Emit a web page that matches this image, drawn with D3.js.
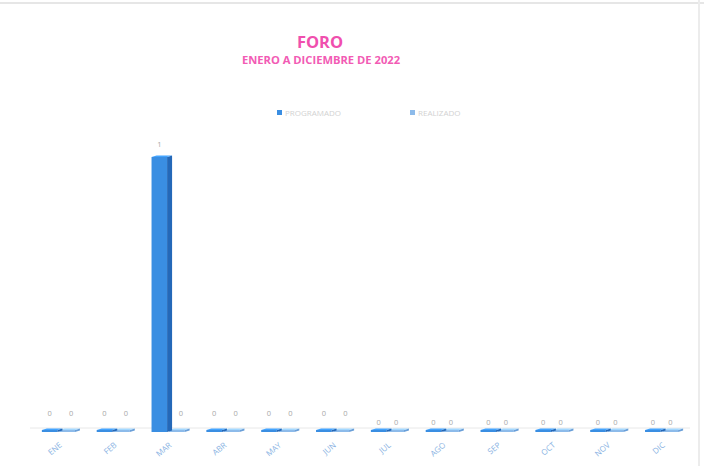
<!DOCTYPE html>
<html><head><meta charset="utf-8">
<script src="https://cdn.jsdelivr.net/npm/d3@7"></script>
<style>body{margin:0;background:#fff}svg{display:block}</style>
</head><body>
<script>
const months = ["ENE","FEB","MAR","ABR","MAY","JUN","JUL","AGO","SEP","OCT","NOV","DIC"];
const seriesNames = ["PROGRAMADO","REALIZADO"];
const programado = [0,0,1,0,0,0,0,0,0,0,0,0];
const realizado  = [0,0,0,0,0,0,0,0,0,0,0,0];
const seriesColors = ["#3a8ee2","#8dbbea"];
const sideColors = ["#2468b8","#6a9fd8"];

const W=704,H=466;
const svg=d3.select("body").append("svg").attr("width",W).attr("height",H);
svg.append("rect").attr("x",0).attr("y",0).attr("width",W).attr("height",H).attr("fill","#fff");
svg.append("line").attr("x1",0).attr("x2",W).attr("y1",3).attr("y2",3).attr("stroke","#e6e6e6").attr("stroke-width",2);
svg.append("line").attr("x1",699).attr("x2",699).attr("y1",0).attr("y2",H).attr("stroke","#ececec").attr("stroke-width",2);

svg.append("text").attr("x",320).attr("y",48).attr("text-anchor","middle")
  .attr("font-family","Open Sans, sans-serif").attr("font-weight",700).attr("font-size",16.5).attr("fill","#f04fae").text("FORO");
svg.append("text").attr("x",321).attr("y",64).attr("text-anchor","middle")
  .attr("font-family","Open Sans, sans-serif").attr("font-weight",700).attr("font-size",11.2).attr("fill","#f25bb4").text("ENERO A DICIEMBRE DE 2022");

const leg=[{x:277,i:0},{x:410,i:1}];
leg.forEach(l=>{
  svg.append("rect").attr("x",l.x).attr("y",110).attr("width",5).attr("height",5).attr("fill",seriesColors[l.i]);
  svg.append("text").attr("x",l.x+8).attr("y",116).attr("font-family","Open Sans, sans-serif").attr("font-size",8)
    .attr("fill","#d2d2d2").text(seriesNames[l.i]);
});

const x0=d3.scaleBand().domain(months).range([32,690]).paddingInner(0.36).paddingOuter(0.18);
const x1=d3.scaleBand().domain(seriesNames).range([0,x0.bandwidth()]).padding(0);
const y=d3.scaleLinear().domain([0,1]).range([432,157]);

svg.append("line").attr("x1",30).attr("x2",690).attr("y1",428).attr("y2",428).attr("stroke","#e8e8e8").attr("stroke-width",1);

const data=[];
months.forEach((m,i)=>{
  data.push({m,s:1,v:realizado[i]});
  data.push({m,s:0,v:programado[i]});
});
const side=5;
const g=svg.append("g");
data.forEach(d=>{
  const bx=x0(d.m)+x1(seriesNames[d.s]);
  const bw=x1.bandwidth()-2;
  const top=y(d.v), base=y(0);
  const h=Math.max(base-top,2);
  const t=base-h;
  g.append("rect").attr("x",bx).attr("y",t).attr("width",bw).attr("height",h).attr("fill",seriesColors[d.s]);
  g.append("path").attr("d",`M${bx+bw},${t} L${bx+bw+side},${t-1.5} L${bx+bw+side},${base-1.5} L${bx+bw},${base} Z`).attr("fill",sideColors[d.s]);
  g.append("path").attr("d",`M${bx},${t} L${bx+side},${t-1.5} L${bx+bw+side},${t-1.5} L${bx+bw},${t} Z`).attr("fill",d3.color(seriesColors[d.s]).brighter(0.4));
  const i=months.indexOf(d.m);
  g.append("text").attr("x",bx+bw/2+(d.s===1&&i<6?4:0)).attr("y",d.v>0? top-10 : (i<6?416:425))
    .attr("text-anchor","middle").attr("font-family","Open Sans, sans-serif").attr("font-size",7.5).attr("fill","#a8a8a8").text(d.v);
});

months.forEach(m=>{
  const cx=x0(m)+x0.bandwidth()/2;
  svg.append("text").attr("transform",`translate(${cx+3},446) rotate(-40)`).attr("text-anchor","end")
    .attr("font-family","Open Sans, sans-serif").attr("font-size",8).attr("fill","#6d9fdc").attr("opacity",0.8).text(m);
});
</script>
</body></html>
